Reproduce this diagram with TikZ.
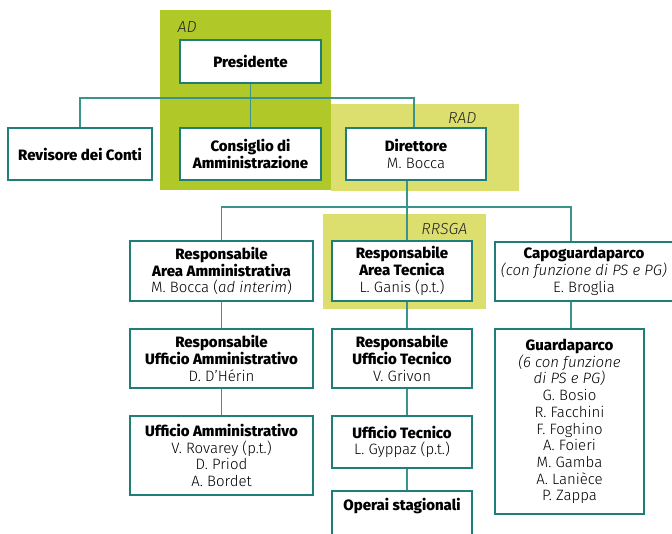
\documentclass[tikz,border=0pt]{standalone}
\usepackage{fontspec}
\setmainfont{Fira Sans Light}[BoldFont = {Fira Sans ExtraBold}]
\usetikzlibrary{calc}
\definecolor{adgreen}{HTML}{B0C828}
\definecolor{radgreen}{HTML}{DCDF6E}
\definecolor{boxteal}{HTML}{1F7F78}
\definecolor{lineteal}{HTML}{3A948C}
\tikzset{x = 1pt, y = -1pt,
  orgbox/.style = {draw = boxteal, fill = white, line width = 1.1pt, align = center,
    inner sep = 0pt, font = \fontsize{15}{16.7}\selectfont},
  link/.style = {draw = lineteal, line width = 1.1pt},
  zone/.style = {font = \fontsize{16}{16}\selectfont\itshape, text = black!85}}
\newcommand{\ttl}[1]{\textbf{#1}}

\begin{document}
\begin{tikzpicture}
\useasboundingbox (0,0) rectangle (672,534);
\clip (0,0) rectangle (672,534);
% coloured areas
\fill[adgreen] (160,10) rectangle (331,190);
\fill[radgreen] (331,104) rectangle (519,191);
\fill[radgreen] (323,214) rectangle (486,309);
\node[zone, anchor = west] (ad) at (174,27) {AD};
\node[zone, anchor = east] (rad) at (480,118) {RAD};
\node[zone, anchor = east] (rrsga) at (471,229) {RRSGA};
% boxes
\node[orgbox, minimum width = 141, minimum height = 43] (pres) at (250.5,61.5) {\ttl{Presidente}};
\node[orgbox, minimum width = 144, minimum height = 52] (rev) at (80,154) {\ttl{Revisore dei Conti}};
\node[orgbox, minimum width = 141, minimum height = 52] (cda) at (250.5,154) {\ttl{Consiglio di}\\\ttl{Amministrazione}};
\node[orgbox, minimum width = 140, minimum height = 52] (dir) at (416,154) {\ttl{Direttore}\\M. Bocca};
\node[orgbox, minimum width = 183, minimum height = 60] (raa) at (221.5,271) {\ttl{Responsabile}\\\ttl{Area Amministrativa}\\M. Bocca (\textit{ad interim})};
\node[orgbox, minimum width = 140, minimum height = 60] (rat) at (402,271) {\ttl{Responsabile}\\\ttl{Area Tecnica}\\L. Ganis (p.t.)};
\node[orgbox, minimum width = 178, minimum height = 59] (capo) at (584,271.5) {\ttl{Capoguardaparco}\\\textit{(con funzione di PS e PG)}\\E. Broglia};
\node[orgbox, minimum width = 183, minimum height = 59] (ruam) at (221.5,358.5) {\ttl{Responsabile}\\\ttl{Ufficio Amministrativo}\\D. D’Hérin};
\node[orgbox, minimum width = 183, minimum height = 79] (uam) at (221.5,455.5) {\ttl{Ufficio Amministrativo}\\V. Rovarey (p.t.)\\D. Priod\\A. Bordet};
\node[orgbox, minimum width = 140, minimum height = 59] (rut) at (402,358.5) {\ttl{Responsabile}\\\ttl{Ufficio Tecnico}\\V. Grivon};
\node[orgbox, minimum width = 140, minimum height = 52] (ut) at (402,442) {\ttl{Ufficio Tecnico}\\L. Gyppaz (p.t.)};
\node[orgbox, minimum width = 140, minimum height = 52, text depth = 26] (op) at (402,517) {\ttl{Operai stagionali}};
\node[orgbox, minimum width = 149, minimum height = 185] (gp) at (569.5,421.5) {\ttl{Guardaparco}\\\textit{(6 con funzione}\\\textit{di PS e PG)}\\G. Bosio\\R. Facchini\\F. Foghino\\A. Foieri\\M. Gamba\\A. Lanièce\\P. Zappa};
% connectors
\coordinate (top) at (250.5,98);
\coordinate (mid) at (407,207);
\coordinate (tcol) at (407,0);
\coordinate (gcol) at (571,0);
\draw[link] (pres.south) -- (cda.north);
\draw[link] (rev.north) |- (top) -| ([xshift=-2pt]dir.north);
\draw[link] (dir.south -| tcol) -- (mid);
\draw[link] (raa.north) |- (mid) -| (capo.north -| gcol);
\draw[link] (mid) -- (rat.north -| tcol);
\draw[link] (raa) -- (ruam);
\draw[link] (ruam) -- (uam);
\draw[link] (rat.south -| tcol) -- (rut.north -| tcol);
\draw[link] (rut.south -| tcol) -- (ut.north -| tcol);
\draw[link] (ut.south -| tcol) -- (op.north -| tcol);
\draw[link] (capo.south -| gcol) -- (gp.north -| gcol);
\end{tikzpicture}
\end{document}
